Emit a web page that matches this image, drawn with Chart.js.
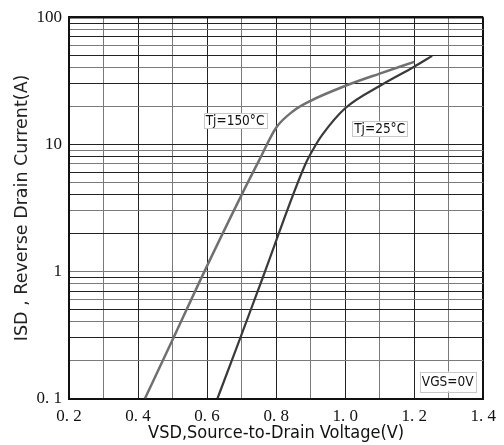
<!DOCTYPE html>
<html>
<head>
<meta charset="utf-8">
<script src="https://cdn.jsdelivr.net/npm/chart.js@4.4.1/dist/chart.umd.min.js"></script>
<style>
  body { margin: 0; background: #fff; }
  canvas { display: block; }
</style>
</head>
<body>
<canvas id="chartIsd" width="504" height="445"></canvas>
<script>
// body diode forward characteristic at two junction temperatures
const vsd150 = [0.42, 0.50, 0.58, 0.70, 0.75, 0.80, 0.85, 0.90, 1.00, 1.10, 1.20];
const isd150 = [0.1, 0.29, 0.85, 4.0, 7.4, 13.5, 18.3, 22, 28.8, 36, 44.5];
const vsd25 = [0.63, 0.69, 0.763, 0.885, 0.91, 0.934, 1.0, 1.105, 1.2, 1.252];
const isd25 = [0.1, 0.27, 0.92, 7.0, 9.4, 11.9, 19.2, 29.3, 40.8, 49.6];

const xTicks = [0.2, 0.3, 0.4, 0.5, 0.6, 0.7, 0.8, 0.9, 1.0, 1.1, 1.2, 1.3, 1.4];
const xTickLabels = ["0. 2", "", "0. 4", "", "0. 6", "", "0. 8", "", "1. 0", "", "1. 2", "", "1. 4"];
const yTicks = [0.1, 0.2, 0.3, 0.4, 0.5, 0.6, 0.7, 0.8, 0.9,
                1, 2, 3, 4, 5, 6, 7, 8, 9,
                10, 20, 30, 40, 50, 60, 70, 80, 90, 100];
const yTickLabels = { 0.1: "0. 1", 1: "1", 10: "10", 100: "100" };

const notes = [
  { text: "Tj=150\u00b0C", x: 0.681, y: 15.4 },
  { text: "Tj=25\u00b0C", x: 1.100, y: 13.3 },
  { text: "VGS=0V", x: 1.297, y: 0.136, pad: 5 }
];

const condFamily = '"DejaVu Sans Condensed", "Liberation Sans Narrow", "DejaVu Sans", sans-serif';
const sansFamily = '"DejaVu Sans", sans-serif';
const serifFamily = '"Liberation Serif", "DejaVu Serif", serif';

const toPoints = (xs, ys) => xs.map((x, i) => ({ x: x, y: ys[i] }));

// alternating dark / grey rules, heavy rule on the outer edge
const gridColor = (c) => (c.index % 2 === 0 ? '#222' : '#7a7a7a');

const noteBoxes = {
  id: 'noteBoxes',
  afterDatasetsDraw(chart) {
    const { ctx, scales } = chart;
    ctx.save();
    ctx.font = '13.5px ' + condFamily;
    ctx.textAlign = 'center';
    ctx.textBaseline = 'middle';
    notes.forEach((n) => {
      const cx = scales.x.getPixelForValue(n.x);
      const cy = scales.y.getPixelForValue(n.y);
      const w = ctx.measureText(n.text).width + 4;
      const h = 15 + (n.pad || 0);
      ctx.fillStyle = '#fff';
      ctx.fillRect(cx - w / 2, cy - h / 2, w, h);
      ctx.strokeStyle = '#c8c8c8';
      ctx.lineWidth = 1;
      ctx.strokeRect(Math.round(cx - w / 2) + 0.5, Math.round(cy - h / 2) + 0.5, Math.round(w), Math.round(h));
      ctx.fillStyle = '#111';
      ctx.fillText(n.text, cx, cy + 1);
    });
    ctx.restore();
  }
};

new Chart(document.getElementById('chartIsd').getContext('2d'), {
  type: 'line',
  data: {
    datasets: [
      {
        label: 'Tj=150\u00b0C',
        data: toPoints(vsd150, isd150),
        borderColor: '#707070',
        borderWidth: 2.5,
        pointRadius: 0,
        cubicInterpolationMode: 'monotone'
      },
      {
        label: 'Tj=25\u00b0C',
        data: toPoints(vsd25, isd25),
        borderColor: '#3a3a3a',
        borderWidth: 2.2,
        pointRadius: 0,
        cubicInterpolationMode: 'monotone'
      }
    ]
  },
  options: {
    responsive: false,
    animation: false,
    layout: { padding: { top: 15, right: 14, left: 0, bottom: 0 } },
    plugins: {
      legend: { display: false },
      tooltip: { enabled: false }
    },
    scales: {
      x: {
        type: 'linear',
        min: 0.2,
        max: 1.4,
        afterBuildTicks: (s) => { s.ticks = xTicks.map((v) => ({ value: v })); },
        afterFit: (s) => { s.height = 46.5; },
        ticks: {
          autoSkip: false,
          maxRotation: 0,
          padding: 8,
          color: '#111',
          font: { family: serifFamily, size: 17 },
          callback: (v, i) => xTickLabels[i]
        },
        grid: {
          drawTicks: false,
          color: (c) => (c.index === xTicks.length - 1 ? '#111' : gridColor(c)),
          lineWidth: (c) => (c.index === xTicks.length - 1 ? 2 : 1)
        },
        border: { color: '#111', width: 2 },
        title: {
          display: true,
          text: 'VSD,Source-to-Drain Voltage(V)',
          color: '#111',
          font: { family: condFamily, size: 18 },
          padding: { top: 0, bottom: 1 }
        }
      },
      y: {
        type: 'logarithmic',
        min: 0.1,
        max: 100,
        afterBuildTicks: (s) => { s.ticks = yTicks.map((v) => ({ value: v })); },
        afterFit: (s) => { s.width = 69; },
        ticks: {
          autoSkip: false,
          padding: 7,
          color: '#111',
          font: { family: serifFamily, size: 17 },
          callback: (v) => yTickLabels[v] || ''
        },
        grid: {
          drawTicks: false,
          color: (c) => (c.index === yTicks.length - 1 ? '#111' : gridColor(c)),
          lineWidth: (c) => (c.index === yTicks.length - 1 ? 2.5 : 1)
        },
        border: { color: '#111', width: 2 },
        title: {
          display: true,
          text: 'ISD , Reverse Drain Current(A)',
          color: '#222',
          font: { family: sansFamily, size: 17.5 },
          padding: { top: 12, bottom: 0 }
        }
      }
    }
  },
  plugins: [noteBoxes]
});
</script>
</body>
</html>
